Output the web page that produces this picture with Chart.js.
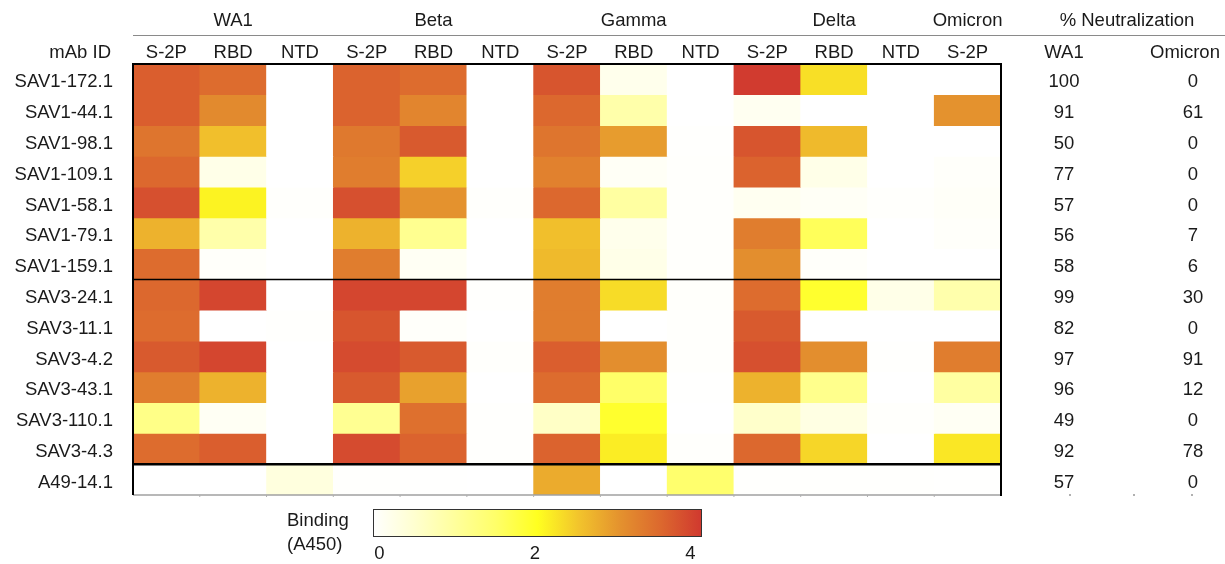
<!DOCTYPE html>
<html>
<head>
<meta charset="utf-8">
<script src="https://cdn.jsdelivr.net/npm/chart.js@4.4.0/dist/chart.umd.min.js"></script>
<style>
  html, body { margin: 0; padding: 0; background: #fff; }
</style>
</head>
<body>
<canvas id="heatmap" width="1225" height="564"></canvas>
<script>
// --- data ---
const mabIds = ['SAV1-172.1', 'SAV1-44.1', 'SAV1-98.1', 'SAV1-109.1', 'SAV1-58.1', 'SAV1-79.1', 'SAV1-159.1',
  'SAV3-24.1', 'SAV3-11.1', 'SAV3-4.2', 'SAV3-43.1', 'SAV3-110.1', 'SAV3-4.3', 'A49-14.1'];
const variants = ['WA1', 'Beta', 'Gamma', 'Delta', 'Omicron'];
const variantCenterCol = [1, 4, 7, 10, 12]; // column each variant label sits over
const antigens = ['S-2P', 'RBD', 'NTD', 'S-2P', 'RBD', 'NTD', 'S-2P', 'RBD', 'NTD', 'S-2P', 'RBD', 'NTD', 'S-2P'];

// binding (A450), one row per mAb, columns follow antigens[]
const binding = [
  [3.6, 3.45, 0, 3.55, 3.45, 0, 3.7, 0.2, 0, 3.97, 2.27, 0, 0],
  [3.6, 3.1, 0, 3.55, 3.15, 0, 3.5, 0.87, 0, 0.15, 0, 0, 3.0],
  [3.35, 2.55, 0, 3.3, 3.65, 0, 3.35, 2.9, 0.02, 3.7, 2.6, 0, 0],
  [3.5, 0.25, 0, 3.25, 2.4, 0, 3.2, 0.1, 0.03, 3.55, 0.25, 0, 0.05],
  [3.75, 2.1, 0.03, 3.75, 3.0, 0.03, 3.5, 0.95, 0.03, 0.15, 0.1, 0.03, 0.07],
  [2.68, 0.87, 0, 2.68, 1.12, 0, 2.55, 0.2, 0.03, 3.25, 1.6, 0, 0.05],
  [3.45, 0.05, 0, 3.25, 0.12, 0, 2.6, 0.25, 0.03, 3.05, 0.05, 0, 0],
  [3.5, 3.85, 0, 3.85, 3.85, 0.02, 3.25, 2.3, 0.04, 3.45, 1.9, 0.25, 0.85],
  [3.45, 0, 0.02, 3.7, 0.05, 0, 3.25, 0, 0.03, 3.65, 0, 0, 0],
  [3.65, 3.85, 0, 3.8, 3.65, 0.03, 3.6, 3.05, 0.03, 3.75, 3.05, 0.02, 3.25],
  [3.25, 2.68, 0, 3.65, 2.85, 0, 3.45, 1.5, 0.01, 2.68, 1.15, 0, 0.95],
  [1.2, 0.12, 0, 1.1, 3.4, 0.02, 0.6, 1.9, 0, 0.55, 0.3, 0.03, 0.12],
  [3.45, 3.6, 0, 3.8, 3.55, 0.02, 3.55, 2.15, 0.03, 3.5, 2.35, 0, 2.2],
  [0, 0, 0.35, 0.02, 0.01, 0, 2.75, 0, 1.45, 0.02, 0.02, 0.02, 0.01]
];

// % neutralization
const neutWA1 = [100, 91, 50, 77, 57, 56, 58, 99, 82, 97, 96, 49, 92, 57];
const neutOmicron = [0, 61, 0, 0, 0, 7, 6, 30, 0, 91, 12, 0, 78, 0];

const legendTicks = [0, 2, 4];

// colour ramp white -> yellow -> orange -> red
const ramp = [
  [0, [255, 255, 255]],
  [0.5, [255, 255, 208]],
  [1, [255, 255, 156]],
  [1.5, [255, 255, 104]],
  [2, [255, 255, 32]],
  [2.5, [242, 196, 44]],
  [3, [228, 146, 46]],
  [3.5, [220, 104, 46]],
  [4, [208, 56, 47]]
];

function a450Color(v) {
  for (let i = 1; i < ramp.length; i++) {
    if (v <= ramp[i][0]) {
      const [v0, c0] = ramp[i - 1];
      const [v1, c1] = ramp[i];
      const t = (v - v0) / (v1 - v0);
      const c = c0.map((x, k) => Math.round(x + (c1[k] - x) * t));
      return `rgb(${c[0]},${c[1]},${c[2]})`;
    }
  }
  const c = ramp[ramp.length - 1][1];
  return `rgb(${c[0]},${c[1]},${c[2]})`;
}

const FONT = "'Liberation Sans', Arial, sans-serif";
const FSIZE = 18.5;
const TEXT = '#1a1a1a';

// one floating-bar dataset per mAb row
const datasets = mabIds.map((id, r) => ({
  label: id,
  data: binding[r].map(() => [r, r + 1]),
  backgroundColor: binding[r].map(v => a450Color(v)),
  borderWidth: 0,
  barPercentage: 1,
  categoryPercentage: 1,
  grouped: false
}));

// headers, borders, neutralization columns and colour key
const extras = {
  id: 'extras',
  afterDraw(chart) {
    const ctx = chart.ctx;
    const area = chart.chartArea;
    const y = chart.scales.y;
    const xs = chart.scales.x;
    ctx.save();
    ctx.fillStyle = TEXT;
    ctx.textBaseline = 'middle';
    ctx.font = `${FSIZE}px ${FONT}`;

    // variant group labels
    ctx.textAlign = 'center';
    variants.forEach((v, i) => ctx.fillText(v, xs.getPixelForValue(variantCenterCol[i]), 21));
    ctx.fillText('% Neutralization', 1127, 21);

    ctx.strokeStyle = '#8a8a8a';
    ctx.lineWidth = 1;
    ctx.beginPath();
    ctx.moveTo(area.left, 35.5);
    ctx.lineTo(1225, 35.5);
    ctx.stroke();

    ctx.textAlign = 'right';
    ctx.fillText('mAb ID', 111, 53);
    ctx.textAlign = 'center';
    ctx.fillText('WA1', 1064, 53);
    ctx.fillText('Omicron', 1185, 53);

    mabIds.forEach((id, i) => {
      const py = y.getPixelForValue(i + 0.5) + 3;
      ctx.fillText(String(neutWA1[i]), 1064, py);
      ctx.fillText(String(neutOmicron[i]), 1193, py);
    });

    // axis baseline with small ticks
    ctx.strokeStyle = '#a0a0a0';
    ctx.lineWidth = 1.5;
    ctx.beginPath();
    ctx.moveTo(area.left, area.bottom);
    ctx.lineTo(area.right, area.bottom);
    ctx.stroke();
    ctx.fillStyle = '#b0b0b0';
    for (let c = 1; c < antigens.length; c++) {
      const px = (xs.getPixelForValue(c - 1) + xs.getPixelForValue(c)) / 2;
      ctx.fillRect(px - 0.5, area.bottom, 1, 2);
    }
    [1070, 1134, 1192].forEach(px => ctx.fillRect(px - 1, area.bottom - 1, 2, 2));

    // black frame and block separators
    ctx.strokeStyle = '#000';
    ctx.lineWidth = 2;
    ctx.beginPath();
    ctx.moveTo(area.left, area.bottom);
    ctx.lineTo(area.left, area.top);
    ctx.lineTo(area.right, area.top);
    ctx.lineTo(area.right, area.bottom + 1);
    ctx.stroke();
    ctx.lineWidth = 1.5;
    ctx.beginPath();
    ctx.moveTo(area.left, y.getPixelForValue(7));
    ctx.lineTo(area.right, y.getPixelForValue(7));
    ctx.stroke();
    ctx.lineWidth = 2.5;
    ctx.beginPath();
    ctx.moveTo(area.left, y.getPixelForValue(13));
    ctx.lineTo(area.right, y.getPixelForValue(13));
    ctx.stroke();

    // colour key
    const kx = 373, ky = 509, kw = 329, kh = 28;
    const grad = ctx.createLinearGradient(kx, 0, kx + kw, 0);
    ramp.forEach(([v, c]) => grad.addColorStop(v / 4, `rgb(${c[0]},${c[1]},${c[2]})`));
    ctx.fillStyle = grad;
    ctx.fillRect(kx, ky, kw, kh);
    ctx.strokeStyle = '#333';
    ctx.lineWidth = 1;
    ctx.strokeRect(kx + 0.5, ky + 0.5, kw - 1, kh - 1);

    ctx.fillStyle = TEXT;
    ctx.textAlign = 'left';
    ctx.fillText('Binding', 287, 521);
    ctx.fillText('(A450)', 287, 545);
    ctx.textAlign = 'center';
    legendTicks.forEach(t => {
      ctx.fillText(String(t), kx + 6.5 + (t / 4) * (kw - 18), 554);
    });
    ctx.restore();
  }
};

new Chart(document.getElementById('heatmap'), {
  type: 'bar',
  data: { labels: antigens, datasets: datasets },
  options: {
    responsive: false,
    animation: false,
    layout: { padding: { right: 224, bottom: 69, top: 0, left: 0 } },
    plugins: {
      legend: { display: false },
      tooltip: { enabled: false }
    },
    scales: {
      x: {
        type: 'category',
        position: 'top',
        grid: { display: false, drawTicks: false },
        border: { display: false },
        ticks: { color: TEXT, font: { family: FONT, size: FSIZE }, padding: 0, maxRotation: 0, autoSkip: false },
        afterFit(s) { s.height = 64; }
      },
      y: {
        type: 'linear',
        min: 0,
        max: mabIds.length,
        reverse: true,
        grid: { display: false, drawTicks: false },
        border: { display: false },
        afterBuildTicks(s) { s.ticks = mabIds.map((_, i) => ({ value: i + 0.5 })); },
        ticks: {
          color: TEXT,
          font: { family: FONT, size: FSIZE },
          padding: 20,
          labelOffset: 3,
          autoSkip: false,
          callback: (v) => mabIds[Math.floor(v)]
        },
        afterFit(s) { s.width = 133; }
      }
    }
  },
  plugins: [extras]
});
</script>
</body>
</html>
